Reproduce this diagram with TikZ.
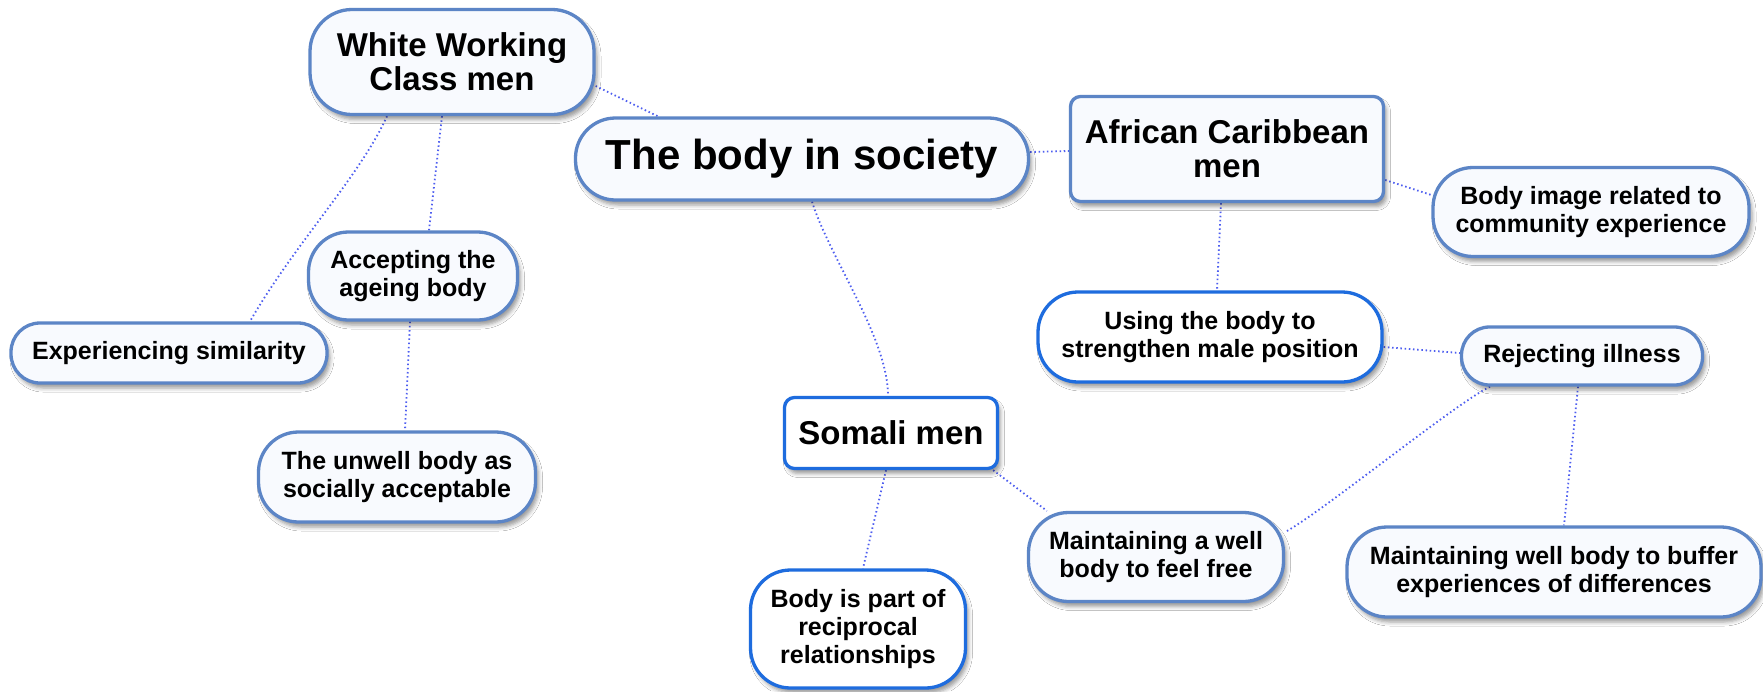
\documentclass[tikz,border=0pt]{standalone}
\usepackage{fontspec}
\setmainfont{Liberation Sans}
\usetikzlibrary{shadows.blur}

\definecolor{rim}{RGB}{92,133,198}
\definecolor{rimbright}{RGB}{30,108,222}
\definecolor{boxfill}{RGB}{248,250,254}
\definecolor{linkblue}{RGB}{78,94,240}

\pgfdeclarelayer{background}
\pgfsetlayers{background,main}

\tikzset{
  box/.style={draw=rim, line width=3.3pt, fill=boxfill, align=center,
    inner sep=0pt, text=black,
    blur shadow={shadow xshift=3pt, shadow yshift=-5pt, shadow blur radius=4pt}},
  hubbox/.style={box, font=\fontsize{42}{46}\selectfont\bfseries},
  groupbox/.style={box, font=\fontsize{33}{34}\selectfont\bfseries},
  leafbox/.style={box, font=\fontsize{25}{28}\selectfont\bfseries},
  bright/.style={draw=rimbright, fill=white},
  link/.style={draw=linkblue, line width=1.8pt, dash pattern=on 1.5pt off 2.7pt},
}

\begin{document}
\begin{tikzpicture}[x=1pt, y=-1pt]
  \useasboundingbox (0,0) rectangle (1763,691);

  % central topic and the three groups
  \node[hubbox, minimum width=453pt, minimum height=82pt, rounded corners=40pt]
    (hub) at (802,159) {The body in society};
  \node[groupbox, minimum width=284pt, minimum height=105pt, rounded corners=42pt]
    (wwc) at (452,62) {White Working\\Class men};
  \node[groupbox, minimum width=313pt, minimum height=105pt, rounded corners=10pt]
    (ac) at (1227,149) {African Caribbean\\men};
  \node[groupbox, bright, minimum width=213pt, minimum height=71pt, rounded corners=10pt]
    (som) at (891,433) {Somali men};

  % themes
  \node[leafbox, minimum width=316pt, minimum height=60pt, rounded corners=29pt]
    (sim) at (169,353) {Experiencing similarity};
  \node[leafbox, minimum width=209pt, minimum height=88pt, rounded corners=40pt]
    (acc) at (413,276) {Accepting the\\ageing body};
  \node[leafbox, minimum width=277pt, minimum height=90pt, rounded corners=40pt]
    (unw) at (397,477) {The unwell body as\\socially acceptable};
  \node[leafbox, minimum width=316pt, minimum height=89pt, rounded corners=40pt]
    (img) at (1591,212) {Body image related to\\community experience};
  \node[leafbox, bright, minimum width=344pt, minimum height=90pt, rounded corners=40pt]
    (use) at (1210,337) {Using the body to\\strengthen male position};
  \node[leafbox, minimum width=241pt, minimum height=58pt, rounded corners=28pt]
    (rej) at (1582,356) {Rejecting illness};
  \node[leafbox, minimum width=255pt, minimum height=89pt, rounded corners=40pt]
    (free) at (1156,557) {Maintaining a well\\body to feel free};
  \node[leafbox, minimum width=414pt, minimum height=90pt, rounded corners=40pt]
    (buf) at (1554,572) {Maintaining well body to buffer\\experiences of differences};
  \node[leafbox, bright, minimum width=215pt, minimum height=118pt, rounded corners=40pt]
    (rec) at (858,629) {Body is part of\\reciprocal\\relationships};

  % white page and dotted connectors, kept behind the boxes
  \begin{pgfonlayer}{background}
    \fill[white] (0,0) rectangle (1763,691);
    \draw[link] ([yshift=-24pt]wwc.east) -- ([xshift=-144pt]hub.north);
    \draw[link] ([xshift=-65pt]wwc.south) .. controls +(-27,60) and +(45,-78) .. ([xshift=81pt]sim.north);
    \draw[link] ([xshift=-10pt]wwc.south) -- ([xshift=16pt]acc.north);
    \draw[link] ([xshift=-3pt]acc.south) -- ([xshift=8pt]unw.north);
    \draw[link] ([xshift=10pt]hub.south) .. controls +(18,57) and +(0,-58) .. ([xshift=-3pt]som.north);
    \draw[link] ([yshift=7pt]hub.east) -- ([yshift=-2pt]ac.west);
    \draw[link] ([yshift=-31pt]ac.east) -- ([yshift=17pt]img.west);
    \draw[link] ([xshift=-6pt]ac.south) -- ([xshift=7pt]use.north);
    \draw[link] ([yshift=-10pt]use.east) -- ([yshift=3pt]rej.west);
    \draw[link] ([xshift=-92pt]rej.south) .. controls +(-35,17) and +(37,-20) .. ([yshift=25pt]free.east);
    \draw[link] ([xshift=-4pt]rej.south) -- ([xshift=10pt]buf.north);
    \draw[link] ([xshift=-6pt]som.south east) -- ([xshift=20pt]free.north west);
    \draw[link] ([xshift=-5pt]som.south) -- ([xshift=5pt]rec.north);
  \end{pgfonlayer}
\end{tikzpicture}
\end{document}
